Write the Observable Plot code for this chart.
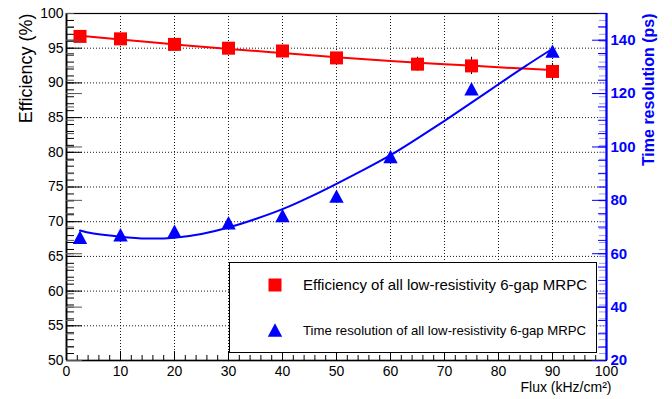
<!DOCTYPE html>
<html>
<head>
<meta charset="utf-8">
<script src="https://cdn.jsdelivr.net/npm/d3@7"></script>
<script src="https://cdn.jsdelivr.net/npm/@observablehq/plot@0.6"></script>
<style>
  html, body { margin: 0; padding: 0; background: #fff; }
  #chart { position: relative; width: 672px; height: 399px; overflow: hidden; }
  #chart > svg { position: absolute; left: 0; top: 0; }
</style>
</head>
<body>
<div id="chart"></div>
<script>
// Efficiency measurements (left axis, %)
const flux = [2.5, 10, 20, 30, 40, 50, 65, 75, 90];
const efficiency = [96.7, 96.35, 95.55, 95.0, 94.6, 93.6, 92.7, 92.45, 91.65];
const efficiencyErr = [0.3, 0.3, 0.3, 0.5, 0.3, 0.4, 1.0, 1.25, 1.15];

// Time resolution measurements (right axis, ps)
const fluxTime = [2.5, 10, 20, 30, 40, 50, 60, 75, 90];
const timeRes = [66.2, 67.1, 68.4, 71.6, 74.3, 81.6, 96.4, 121.8, 135.9];

// Fitted curves
const effFitFlux = [2.5, 10, 20, 30, 40, 50, 60, 70, 80, 90];
const effFit = [96.8, 96.25, 95.55, 94.9, 94.3, 93.7, 93.15, 92.7, 92.25, 91.85];
const timeFitFlux = [2.5, 5, 10, 15, 20, 25, 30, 35, 40, 45, 50, 55, 60, 65, 70, 75, 80, 85, 90];
const timeFit = [68.7, 67.6, 66.4, 65.7, 66.0, 67.4, 69.8, 73.0, 76.7, 81.2, 86.2, 91.4, 96.9, 103.2, 109.8, 116.6, 123.5, 130.3, 136.8];

// Axis tick labels
const fluxTickLabels = [0, 10, 20, 30, 40, 50, 60, 70, 80, 90, 100];
const effTickLabels = [50, 55, 60, 65, 70, 75, 80, 85, 90, 95, 100];
const timeTickLabels = [20, 40, 60, 80, 100, 120, 140];

// Legend entries
const legendLabels = [
  "Efficiency of all low-resistivity 6-gap MRPC",
  "Time resolution of all low-resistivity 6-gap MRPC"
];

const W = 672, H = 399;
const M = {marginTop: 13, marginRight: 66, marginBottom: 39, marginLeft: 66};
const innerW = W - M.marginLeft - M.marginRight;
const innerH = H - M.marginTop - M.marginBottom;
const font = '"Liberation Sans", Arial, Helvetica, sans-serif';
const RED = "#ff0000", BLUE = "#0000ff";

// Marker shapes centred on their bounding box
const squareMarker = {
  draw(ctx, size) {
    const h = Math.sqrt(size / Math.PI);
    ctx.rect(-h, -h, 2 * h, 2 * h);
  }
};
const triangleMarker = {
  draw(ctx, size) {
    const h = Math.sqrt(size / Math.PI);
    ctx.moveTo(0, -0.93 * h);
    ctx.lineTo(h, 0.93 * h);
    ctx.lineTo(-h, 0.93 * h);
    ctx.closePath();
  }
};

const effRows = flux.map((f, i) => ({flux: f, eff: efficiency[i], err: efficiencyErr[i]}));
const effFitRows = effFitFlux.map((f, i) => ({flux: f, eff: effFit[i]}));
const timeRows = fluxTime.map((f, i) => ({flux: f, ps: timeRes[i]}));
const timeFitRows = timeFitFlux.map((f, i) => ({flux: f, ps: timeFit[i]}));

const fluxMinor = d3.range(0, 100.001, 2);
const effMinor = d3.range(50, 100.001, 1);
const timeMinor = d3.range(20, 150.001, 5);
const timeMajor = d3.range(20, 150.001, 20);

// Efficiency layer: frame, grid, bottom and left axes
const plotA = Plot.plot({
  width: W, height: H, ...M,
  x: {domain: [0, 100]},
  y: {domain: [50, 100]},
  style: {fontFamily: font, fontSize: "14px", background: "#fff", color: "#000", overflow: "visible"},
  marks: [
    Plot.gridX(fluxTickLabels.slice(1, -1), {stroke: "#000", strokeOpacity: 0.9, strokeDasharray: "1,2"}),
    Plot.gridY(effTickLabels.slice(1, -1), {stroke: "#000", strokeOpacity: 0.9, strokeDasharray: "1,2"}),
    // inward ticks on the left edge
    Plot.tickY(effMinor, {y: d => d, insetRight: innerW - 8, stroke: "#000"}),
    Plot.tickY(effTickLabels, {y: d => d, insetRight: innerW - 16, stroke: "#000"}),
    // mirrored efficiency ticks on the right edge
    Plot.tickY(effMinor, {y: d => d, insetLeft: innerW - 7, stroke: "#9a9aff"}),
    // inward ticks on the bottom edge
    Plot.tickX(fluxMinor, {x: d => d, insetTop: innerH - 5, stroke: "#000"}),
    Plot.tickX(fluxTickLabels, {x: d => d, insetTop: innerH - 9, stroke: "#000"}),
    Plot.frame({stroke: "#000", strokeWidth: 1.2}),
    Plot.ruleX([0], {stroke: "#000", strokeWidth: 1.8}),
    Plot.ruleY([50], {stroke: "#000", strokeWidth: 1.6}),
    Plot.axisY(effTickLabels, {anchor: "left", tickSize: 0, tickPadding: 3, label: null, fontSize: 14}),
    Plot.axisX(fluxTickLabels, {anchor: "bottom", tickSize: 0, tickPadding: 6, label: null, fontSize: 14}),
    // efficiency fit and measurements
    Plot.line(effFitRows, {x: "flux", y: "eff", stroke: RED, strokeWidth: 2, curve: "natural"}),
    Plot.ruleX(effRows, {x: "flux", y1: d => d.eff - d.err, y2: d => d.eff + d.err, stroke: "#000", strokeWidth: 1}),
    Plot.dot(effRows, {x: "flux", y: "eff", symbol: squareMarker, r: 6.5, fill: RED}),
    // axis titles
    Plot.text(["Efficiency (%)"], {frameAnchor: "top-left", rotate: -90, textAnchor: "end", lineAnchor: "middle", dx: -40.5, fontSize: 18, fill: "#000"}),
    Plot.text(["Flux (kHz/cm²)"], {frameAnchor: "bottom-right", textAnchor: "end", lineAnchor: "middle", dx: 5, dy: 27, fontSize: 14, fill: "#000"})
  ]
});

// Time-resolution layer: right axis in ps, drawn over the first
const plotB = Plot.plot({
  width: W, height: H, ...M,
  x: {domain: [0, 100], axis: null},
  y: {domain: [20, 150]},
  style: {fontFamily: font, fontSize: "15px", background: "transparent", color: BLUE, overflow: "visible"},
  marks: [
    // time ticks mirrored on the left edge
    Plot.tickY(timeMinor, {y: d => d, insetRight: innerW - 8, stroke: "#555"}),
    Plot.tickY(timeMajor, {y: d => d, insetRight: innerW - 16, stroke: "#555"}),
    // time ticks on the right edge
    Plot.tickY(timeMinor, {y: d => d, insetLeft: innerW - 8, stroke: BLUE}),
    Plot.tickY(timeMajor, {y: d => d, insetLeft: innerW - 14, stroke: BLUE}),
    Plot.ruleX([100], {stroke: BLUE, strokeWidth: 2.2}),
    Plot.axisY(timeTickLabels, {anchor: "right", tickSize: 0, tickPadding: 4, label: null, fontSize: 15, fontWeight: "bold", fill: BLUE}),
    Plot.line(timeFitRows, {x: "flux", y: "ps", stroke: BLUE, strokeWidth: 2, curve: "natural"}),
    Plot.dot(timeRows, {x: "flux", y: "ps", symbol: triangleMarker, r: 7.2, fill: BLUE}),
    Plot.text(["Time resolution (ps)"], {frameAnchor: "top-right", rotate: -90, textAnchor: "end", lineAnchor: "middle", dx: 42.5, fontSize: 16, fontWeight: "bold", fill: BLUE})
  ]
});

// Legend box; each entry's text is sized to the same width
const lw = 368, lh = 91;
const legend = d3.create("svg")
  .attr("width", lw).attr("height", lh)
  .style("left", "229px").style("top", "262px")
  .style("font-family", font);
legend.append("rect")
  .attr("x", 0.5).attr("y", 0.5).attr("width", lw - 1).attr("height", lh - 1)
  .attr("fill", "#fff").attr("stroke", "#000").attr("stroke-width", 1);
const legendItems = [
  {label: legendLabels[0], shape: squareMarker, r: 6.5, color: RED, cy: 23, size: 15},
  {label: legendLabels[1], shape: triangleMarker, r: 7.2, color: BLUE, cy: 68, size: 13.2}
];
for (const item of legendItems) {
  const p = d3.path();
  item.shape.draw(p, Math.PI * item.r * item.r);
  legend.append("path")
    .attr("transform", `translate(46,${item.cy})`)
    .attr("d", p.toString())
    .attr("fill", item.color);
  legend.append("text")
    .attr("x", 74).attr("y", item.cy)
    .attr("dy", "0.35em")
    .attr("font-size", item.size)
    .attr("fill", "#000")
    .text(item.label);
}

const chart = document.getElementById("chart");
chart.append(plotA);
chart.append(plotB);
chart.append(legend.node());
</script>
</body>
</html>
